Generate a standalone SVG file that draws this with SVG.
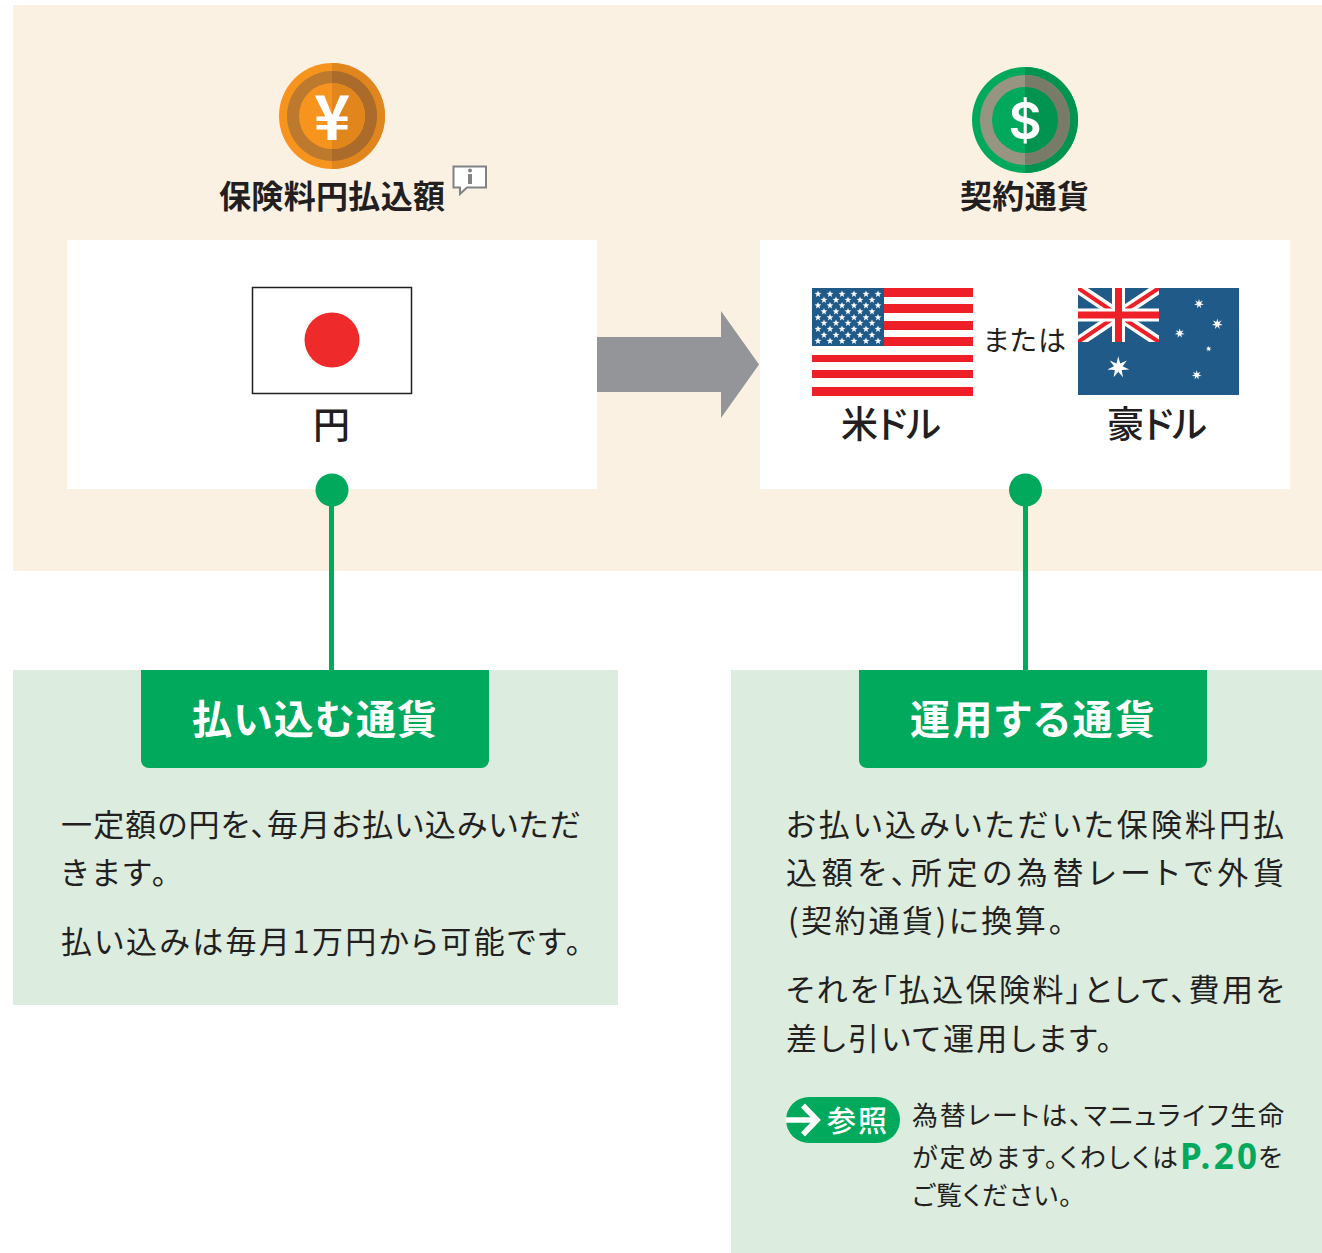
<svg xmlns="http://www.w3.org/2000/svg" xmlns:xlink="http://www.w3.org/1999/xlink" width="1322" height="1253" viewBox="0 0 1322 1253">
<style>
text{font-family:"Noto Sans CJK JP","Noto Sans",sans-serif;fill:#231f20;font-feature-settings:"palt"}
.h{font-size:32px;font-weight:700}
.c{font-size:37px;font-weight:500}
.b{font-size:31px}
.s{font-size:26px}
.t{font-size:40px;font-weight:700;fill:#fff}
.w{fill:#fff}
.g{fill:#00a95c}
.line{stroke:#00a95c;stroke-width:5;fill:none}
</style>
<defs>
<polygon id="st" fill="#fff" points="0,-3.6 .9,-1.2 3.4,-1.1 1.4,.5 2.1,2.9 0,1.5 -2.1,2.9 -1.4,.5 -3.4,-1.1 -.9,-1.2"/>
<polygon id="st7" fill="#fff" points="0,-10 1.7,-3.5 7.8,-6.2 3.9,-.9 10,1.9 3.1,2.5 4.3,9 0,4 -4.3,9 -3.1,2.5 -10,1.9 -3.9,-.9 -7.8,-6.2 -1.7,-3.5"/>
<clipPath id="uj"><rect x="1078" y="288" width="81" height="54"/></clipPath>
</defs>
<rect x="13" y="5" width="1309" height="566" fill="#fbf1e3"/>
<rect x="13" y="670" width="605" height="335" fill="#dcecdf"/>
<rect x="731" y="670" width="591" height="583" fill="#dcecdf"/>
<g id="coin-yen">
<circle cx="332" cy="116" r="53" fill="#f7941e"/>
<path d="M332 63a53 53 0 0 1 0 106z" fill="#e0861d"/>
<circle cx="332" cy="116" r="45" fill="#bd7a2f"/>
<path d="M332 71a45 45 0 0 1 0 90z" fill="#aa6b2b"/>
<circle cx="332" cy="116" r="33" fill="#f7941e"/>
<path d="M332 83a33 33 0 0 1 0 66z" fill="#e0861d"/>
<text x="332" y="140" text-anchor="middle" style="font-size:62px;font-weight:700;fill:#fff">¥</text>
</g>
<g id="label-premium">
<text class="h" x="219" y="208" textLength="226" lengthAdjust="spacing">保険料円払込額</text>
<path d="M453.500 166.500H486V187.500H467L460 194V187.500H453.500Z" fill="#fff" stroke="#808285" stroke-width="2"/>
<rect x="468" y="174" width="4" height="10" fill="#808285"/>
<circle cx="470" cy="170.500" r="2" fill="#808285"/>
</g>
<g id="coin-dollar">
<circle cx="1025" cy="120" r="53" fill="#00a95c"/>
<path d="M1025 67a53 53 0 0 1 0 106z" fill="#009450"/>
<circle cx="1025" cy="120" r="45" fill="#959582"/>
<path d="M1025 75a45 45 0 0 1 0 90z" fill="#787b68"/>
<circle cx="1025" cy="120" r="33" fill="#00a95c"/>
<path d="M1025 87a33 33 0 0 1 0 66z" fill="#009450"/>
<text x="1025" y="138.500" text-anchor="middle" style="font-size:51px;font-weight:600;fill:#fff;font-family:Inter,sans-serif">$</text>
</g>
<g id="label-contract">
<text class="h" x="960" y="208" textLength="129" lengthAdjust="spacing">契約通貨</text>
</g>
<g id="box-yen">
<rect x="67" y="240" width="530" height="249" fill="#fff"/>
<rect x="252.500" y="287.500" width="159" height="106" fill="#fff" stroke="#231f20" stroke-width="1.500"/>
<circle cx="332" cy="340" r="27.500" fill="#ee2a2a"/>
<text class="c" x="313" y="439">円</text>
</g>
<g id="box-foreign">
<rect x="760" y="240" width="530" height="249" fill="#fff"/>
<g id="flag-us">
<rect x="812" y="288" width="161" height="108" fill="#fff"/>
<g fill="#ee1f26">
<rect x="812" y="288" width="161" height="9"/>
<rect x="812" y="304" width="161" height="9"/>
<rect x="812" y="321" width="161" height="9"/>
<rect x="812" y="337" width="161" height="9"/>
<rect x="812" y="355" width="161" height="7"/>
<rect x="812" y="370" width="161" height="8"/>
<rect x="812" y="387" width="161" height="9"/>
</g>
<rect x="812" y="288" width="72" height="58" fill="#205a88"/>
<g id="stars-a">
<use xlink:href="#st" href="#st" x="818" y="294"/><use xlink:href="#st" href="#st" x="830" y="294"/><use xlink:href="#st" href="#st" x="842" y="294"/><use xlink:href="#st" href="#st" x="854" y="294"/><use xlink:href="#st" href="#st" x="866" y="294"/><use xlink:href="#st" href="#st" x="878" y="294"/>
<use xlink:href="#st" href="#st" x="824" y="300"/><use xlink:href="#st" href="#st" x="836" y="300"/><use xlink:href="#st" href="#st" x="848" y="300"/><use xlink:href="#st" href="#st" x="860" y="300"/><use xlink:href="#st" href="#st" x="872" y="300"/>
<use xlink:href="#st" href="#st" x="818" y="305.500"/><use xlink:href="#st" href="#st" x="830" y="305.500"/><use xlink:href="#st" href="#st" x="842" y="305.500"/><use xlink:href="#st" href="#st" x="854" y="305.500"/><use xlink:href="#st" href="#st" x="866" y="305.500"/><use xlink:href="#st" href="#st" x="878" y="305.500"/>
<use xlink:href="#st" href="#st" x="824" y="311.500"/><use xlink:href="#st" href="#st" x="836" y="311.500"/><use xlink:href="#st" href="#st" x="848" y="311.500"/><use xlink:href="#st" href="#st" x="860" y="311.500"/><use xlink:href="#st" href="#st" x="872" y="311.500"/>
<use xlink:href="#st" href="#st" x="818" y="317.500"/><use xlink:href="#st" href="#st" x="830" y="317.500"/><use xlink:href="#st" href="#st" x="842" y="317.500"/><use xlink:href="#st" href="#st" x="854" y="317.500"/><use xlink:href="#st" href="#st" x="866" y="317.500"/><use xlink:href="#st" href="#st" x="878" y="317.500"/>
<use xlink:href="#st" href="#st" x="824" y="323"/><use xlink:href="#st" href="#st" x="836" y="323"/><use xlink:href="#st" href="#st" x="848" y="323"/><use xlink:href="#st" href="#st" x="860" y="323"/><use xlink:href="#st" href="#st" x="872" y="323"/>
<use xlink:href="#st" href="#st" x="818" y="329"/><use xlink:href="#st" href="#st" x="830" y="329"/><use xlink:href="#st" href="#st" x="842" y="329"/><use xlink:href="#st" href="#st" x="854" y="329"/><use xlink:href="#st" href="#st" x="866" y="329"/><use xlink:href="#st" href="#st" x="878" y="329"/>
<use xlink:href="#st" href="#st" x="824" y="335"/><use xlink:href="#st" href="#st" x="836" y="335"/><use xlink:href="#st" href="#st" x="848" y="335"/><use xlink:href="#st" href="#st" x="860" y="335"/><use xlink:href="#st" href="#st" x="872" y="335"/>
<use xlink:href="#st" href="#st" x="818" y="341"/><use xlink:href="#st" href="#st" x="830" y="341"/><use xlink:href="#st" href="#st" x="842" y="341"/><use xlink:href="#st" href="#st" x="854" y="341"/><use xlink:href="#st" href="#st" x="866" y="341"/><use xlink:href="#st" href="#st" x="878" y="341"/>
</g>
</g>
<g id="flag-au">
<rect x="1078" y="288" width="161" height="107" fill="#205a88"/>
<g clip-path="url(#uj)">
<path d="M1078 288L1159 342M1159 288L1078 342" stroke="#fff" stroke-width="11" fill="none"/>
<path d="M1078 288L1118 315M1118 315L1159 342M1159 288L1118 315M1118 315L1078 342" stroke="#ee1f26" stroke-width="4" fill="none"/>
<rect x="1078" y="308.500" width="81" height="13" fill="#fff"/>
<rect x="1112" y="288" width="13" height="54" fill="#fff"/>
<rect x="1078" y="311.500" width="81" height="7" fill="#ee1f26"/>
<rect x="1115" y="288" width="7" height="54" fill="#ee1f26"/>
</g>
<use xlink:href="#st7" href="#st7" transform="translate(1118.300 367.300)scale(1.100)"/>
<use xlink:href="#st7" href="#st7" transform="translate(1199 303.700)scale(.5)"/>
<use xlink:href="#st7" href="#st7" transform="translate(1217.300 324)scale(.55)"/>
<use xlink:href="#st7" href="#st7" transform="translate(1179.700 333.300)scale(.5)"/>
<use xlink:href="#st7" href="#st7" transform="translate(1208.700 348.700)scale(.3)"/>
<use xlink:href="#st7" href="#st7" transform="translate(1196.700 375)scale(.5)"/>
</g>
<text x="983" y="351" style="font-size:28px" textLength="83" lengthAdjust="spacing">または</text>
<text class="c" x="841" y="438" textLength="100" lengthAdjust="spacing">米ドル</text>
<text class="c" x="1107" y="438" textLength="100" lengthAdjust="spacing">豪ドル</text>
</g>
<g id="connectors">
<polygon points="597,337 721,337 721,311 759,364.500 721,418 721,392 597,392" fill="#939598"/>
<path class="line" d="M331.500 490V672"/>
<path class="line" d="M1025.500 490V672"/>
<circle cx="332" cy="490" r="16.500" class="g"/>
<circle cx="1025.500" cy="490" r="16.500" class="g"/>
</g>
<g id="tab-left">
<path d="M141 670H489V760a8 8 0 0 1-8 8H149a8 8 0 0 1-8-8Z" class="g"/>
<text class="t" x="192" y="734" textLength="245" lengthAdjust="spacing">払い込む通貨</text>
</g>
<g id="text-left">
<text class="b" x="61" y="836" textLength="520" lengthAdjust="spacing">一定額の円を、毎月お払い込みいただ</text>
<text class="b" x="61" y="884" textLength="106" lengthAdjust="spacing">きます。</text>
<text class="b" x="61" y="953" textLength="520" lengthAdjust="spacing">払い込みは毎月1万円から可能です。</text>
</g>
<g id="tab-right">
<path d="M859 670H1207V760a8 8 0 0 1-8 8H867a8 8 0 0 1-8-8Z" class="g"/>
<text class="t" x="910" y="734" textLength="245" lengthAdjust="spacing">運用する通貨</text>
</g>
<g id="text-right">
<text class="b" x="786" y="836" textLength="498" lengthAdjust="spacing">お払い込みいただいた保険料円払</text>
<text class="b" x="786" y="884" textLength="498" lengthAdjust="spacing">込額を、所定の為替レートで外貨</text>
<text class="b" x="788" y="932" textLength="276" lengthAdjust="spacing">(契約通貨)に換算。</text>
<text class="b" x="786" y="1001" textLength="498" lengthAdjust="spacing">それを「払込保険料」として、費用を</text>
<text class="b" x="786" y="1050" textLength="326" lengthAdjust="spacing">差し引いて運用します。</text>
</g>
<g id="ref-badge">
<rect x="786" y="1097" width="114" height="46" rx="23" class="g"/>
<path d="M786 1120H816M803 1105.500L817 1120L803 1134.500" stroke="#fff" stroke-width="5.500" fill="none"/>
<text x="827" y="1132" style="font-size:29px;font-weight:500;fill:#fff" textLength="60" lengthAdjust="spacing">参照</text>
</g>
<g id="ref-text">
<text class="s" x="912" y="1125" textLength="372" lengthAdjust="spacing">為替レートは、マニュライフ生命</text>
<text class="s" x="912" y="1167" textLength="266" lengthAdjust="spacing">が定めます。くわしくは</text>
<text x="1180" y="1169" textLength="77" lengthAdjust="spacing" style="font-size:35px;font-weight:700;fill:#00a95c;font-family:'Noto Sans',sans-serif">P.20</text>
<text class="s" x="1258" y="1167">を</text>
<text class="s" x="912" y="1205" textLength="160" lengthAdjust="spacing">ご覧ください。</text>
</g>
</svg>
